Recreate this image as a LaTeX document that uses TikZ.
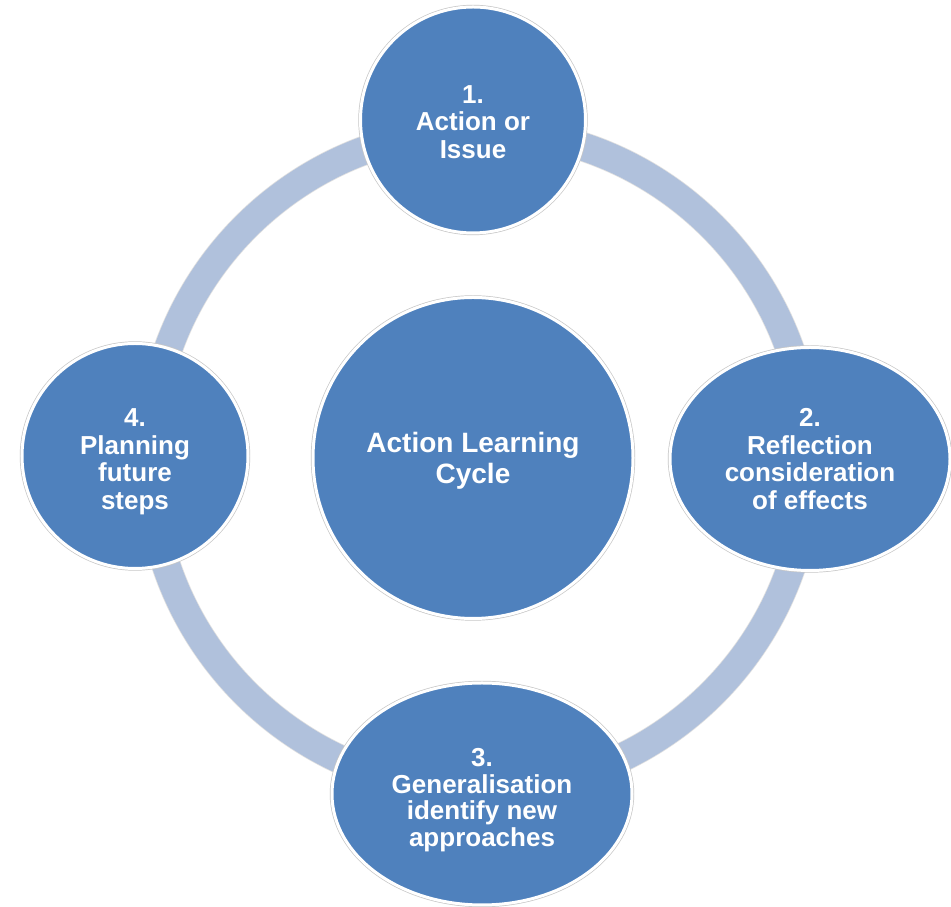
\documentclass[tikz,border=0pt]{standalone}
\usepackage{fontspec}
\setmainfont{Liberation Sans}
\usetikzlibrary{shapes.geometric}
\definecolor{nodeblue}{HTML}{4F81BD}
\definecolor{ringblue}{HTML}{B0C1DC}
\begin{document}
\begin{tikzpicture}[x=1pt,y=1pt,
  stage/.style={ellipse, inner sep=0pt, fill=nodeblue, draw=white, line width=3pt,
    preaction={draw=black!22, line width=4.4pt}},
  stagetext/.style={inner sep=0pt, text=white, align=center,
    font=\fontsize{26}{27.5}\selectfont\bfseries},
  hubtext/.style={stagetext, font=\fontsize{28}{31}\selectfont\bfseries},
  ring/.style={draw=ringblue, line width=28pt}]
\useasboundingbox (0,0) rectangle (951,907);
\fill[white] (0,0) rectangle (951,907);
\coordinate (ringc) at (479,447);
\draw[ring, preaction={draw=black!12, line width=29.5pt}] (ringc) circle[radius=330];
\node[stage, minimum width=320, minimum height=321] (hub) at (473,449) {};
\node[stage, minimum width=225, minimum height=226] (s1) at (473,787) {};
\node[stage, minimum width=280, minimum height=223] (s2) at (810,448) {};
\node[stage, minimum width=300, minimum height=222] (s3) at (482,113) {};
\node[stage, minimum width=226, minimum height=225] (s4) at (135,451) {};
\node[hubtext] (thub) at ([yshift=-3pt]hub.center) {Action Learning\\Cycle};
\node[stagetext] (t1) at ([yshift=-2pt]s1.center) {1.\\Action or\\Issue};
\node[stagetext] (t2) at (s2.center) {2.\\Reflection\\consideration\\of effects};
\node[stagetext, font=\fontsize{26}{26.5}\selectfont\bfseries] (t3) at ([yshift=-6pt]s3.center) {3.\\Generalisation\\identify new\\approaches};
\node[stagetext] (t4) at ([yshift=-6pt]s4.center) {4.\\Planning\\future\\steps};
\end{tikzpicture}
\end{document}
